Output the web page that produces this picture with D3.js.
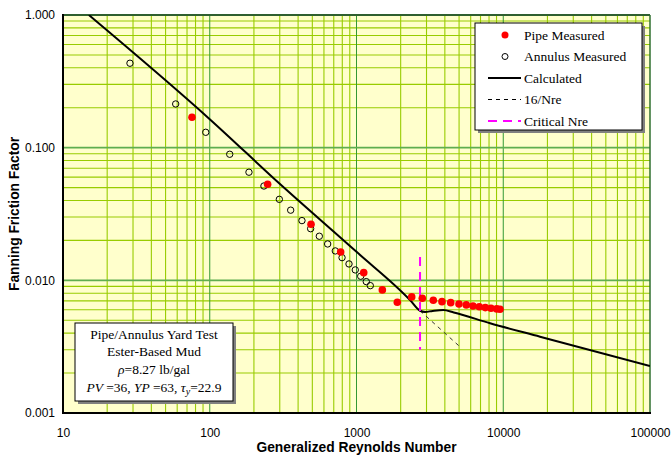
<!DOCTYPE html>
<html>
<head>
<meta charset="utf-8">
<script src="https://cdn.jsdelivr.net/npm/d3@7"></script>
<style>
  html, body { margin: 0; padding: 0; background: #fff; }
  svg { display: block; }
</style>
</head>
<body>
<svg id="chart" width="672" height="456"></svg>
<script>
// Generalized Reynolds number vs. Fanning friction factor, yard test data

// Pipe measurements
const pipeRe = [75.7, 248, 490, 780, 1120, 1500, 1897, 2378, 2808, 3337, 3824, 4385, 4994, 5601, 6221, 6868, 7547, 8251, 9024, 9504];
const pipeF  = [0.1694, 0.0530, 0.0265, 0.01637, 0.01143, 0.00847, 0.00684, 0.00750, 0.00733, 0.00708, 0.00691, 0.00679, 0.00664, 0.00653, 0.00641, 0.00633, 0.00623, 0.00616, 0.00609, 0.00606];

// Annulus measurements
const annRe = [28.6, 58.6, 93.9, 136.8, 185, 234, 298, 356, 425, 487, 558, 636, 717, 797, 889, 981, 1068, 1166, 1242];
const annF  = [0.433, 0.2135, 0.1306, 0.0892, 0.0653, 0.0514, 0.0408, 0.0338, 0.0282, 0.0245, 0.0215, 0.0188, 0.01666, 0.01483, 0.01329, 0.01198, 0.01074, 0.00978, 0.00912];

// Calculated friction factor curve
const calcRe = [15, 100, 301, 1000, 2316, 2710, 2930, 3300, 3904, 4600, 8130, 17800, 100000];
const calcF  = [1.0, 0.164, 0.0532, 0.0164, 0.00711, 0.00590, 0.00578, 0.00588, 0.00597, 0.00572, 0.00475, 0.00376, 0.00226];

// Laminar 16/Nre reference segment and critical Reynolds number
const laminarRe = [2710, 5000];
const laminarF  = [16 / 2710, 16 / 5000];
const criticalRe = 2710;
const criticalF  = [0.015, 0.003];

// Axis ticks
const xTicks = [10, 100, 1000, 10000, 100000];
const xTickLabels = ["10", "100", "1000", "10000", "100000"];
const yTicks = [0.001, 0.01, 0.1, 1];
const yTickLabels = ["0.001", "0.010", "0.100", "1.000"];

const legendLabels = ["Pipe Measured", "Annulus Measured", "Calculated", "16/Nre", "Critical Nre"];
const noteLines = ["Pipe/Annulus Yard Test", "Ester-Based Mud"];

const svg = d3.select("#chart");
const L = 63, R = 650, T = 15, B = 413;

const x = d3.scaleLog().domain([10, 100000]).range([L, R]);
const y = d3.scaleLog().domain([0.001, 1]).range([B, T]);

// plot background
svg.append("rect").attr("x", L).attr("y", T).attr("width", R - L).attr("height", B - T).attr("fill", "#FFFFCC");

const grid = svg.append("g");
// minor grid lines (2..9 in each decade)
const minorX = [], minorY = [];
for (let d = 10; d < 100000; d *= 10) for (let k = 2; k <= 9; k++) minorX.push(d * k);
for (let d = 0.001; d < 0.9; d *= 10) for (let k = 2; k <= 9; k++) minorY.push(d * k);
grid.selectAll(".mx").data(minorX).enter().append("line")
  .attr("x1", d => x(d)).attr("x2", d => x(d)).attr("y1", T).attr("y2", B)
  .attr("stroke", "#99CC00").attr("stroke-width", 1.1);
grid.selectAll(".my").data(minorY).enter().append("line")
  .attr("y1", d => y(d)).attr("y2", d => y(d)).attr("x1", L).attr("x2", R)
  .attr("stroke", "#99CC00").attr("stroke-width", 1.1);
// major grid lines
grid.selectAll(".Mx").data(xTicks.slice(1, -1)).enter().append("line")
  .attr("x1", d => x(d)).attr("x2", d => x(d)).attr("y1", T).attr("y2", B)
  .attr("stroke", "#339933").attr("stroke-width", 1);
grid.selectAll(".My").data(yTicks.slice(1, -1)).enter().append("line")
  .attr("y1", d => y(d)).attr("y2", d => y(d)).attr("x1", L).attr("x2", R)
  .attr("stroke", "#5FAE4F").attr("stroke-width", 1.6);

// frame: top/right in dark green, left/bottom black
svg.append("line").attr("x1", L).attr("x2", R).attr("y1", T).attr("y2", T).attr("stroke", "#2F5F2F").attr("stroke-width", 2);
svg.append("line").attr("x1", R).attr("x2", R).attr("y1", T).attr("y2", B).attr("stroke", "#2F6F2F").attr("stroke-width", 1.5);

svg.append("clipPath").attr("id", "plotClip").append("rect")
  .attr("x", L).attr("y", T).attr("width", R - L).attr("height", B - T);

const line = d3.line().x(d => x(d[0])).y(d => y(d[1]));
const curve = d3.line().x(d => x(d[0])).y(d => y(d[1])).curve(d3.curveMonotoneX);

const plot = svg.append("g").attr("clip-path", "url(#plotClip)");

// 16/Nre
plot.append("path").datum(laminarRe.map((r, i) => [r, laminarF[i]]))
  .attr("d", line).attr("fill", "none").attr("stroke", "#333").attr("stroke-width", 1)
  .attr("stroke-dasharray", "4,4");

// calculated
plot.append("path").datum(calcRe.map((r, i) => [r, calcF[i]]))
  .attr("d", curve).attr("fill", "none").attr("stroke", "#000").attr("stroke-width", 2);

// critical Nre
plot.append("line")
  .attr("x1", x(criticalRe)).attr("x2", x(criticalRe))
  .attr("y1", y(criticalF[0])).attr("y2", y(criticalF[1]))
  .attr("stroke", "#FF00FF").attr("stroke-width", 2).attr("stroke-dasharray", "9,6");

// annulus points
plot.selectAll(".ann").data(annRe.map((r, i) => [r, annF[i]])).enter().append("circle")
  .attr("cx", d => x(d[0])).attr("cy", d => y(d[1])).attr("r", 3.2)
  .attr("fill", "none").attr("stroke", "#000").attr("stroke-width", 1);

// pipe points
plot.selectAll(".pipe").data(pipeRe.map((r, i) => [r, pipeF[i]])).enter().append("circle")
  .attr("cx", d => x(d[0])).attr("cy", d => y(d[1])).attr("r", 3.8)
  .attr("fill", "#FF0000");

// left and bottom axis lines
svg.append("line").attr("x1", L).attr("x2", L).attr("y1", T - 1).attr("y2", B + 1).attr("stroke", "#000").attr("stroke-width", 2);
svg.append("line").attr("x1", L - 1).attr("x2", R + 1).attr("y1", B).attr("y2", B).attr("stroke", "#000").attr("stroke-width", 2);

// axes (labels only)
const sans = "Liberation Sans, Arial, sans-serif";
const xAxis = d3.axisBottom(x).tickValues(xTicks).tickFormat((d, i) => xTickLabels[i]).tickSize(0).tickPadding(15);
const gx = svg.append("g").attr("transform", `translate(0,${B})`).call(xAxis);
gx.select(".domain").remove();
gx.selectAll("text").attr("font-family", sans).attr("font-size", 12).attr("fill", "#000");

const yAxis = d3.axisLeft(y).tickValues(yTicks).tickFormat((d, i) => yTickLabels[i]).tickSize(0).tickPadding(8);
const gy = svg.append("g").attr("transform", `translate(${L},0)`).call(yAxis);
gy.select(".domain").remove();
gy.selectAll("text").attr("font-family", sans).attr("font-size", 12).attr("fill", "#000");

// axis titles
svg.append("text").attr("x", (L + R) / 2).attr("y", 452).attr("text-anchor", "middle")
  .attr("font-family", sans).attr("font-weight", "bold").attr("font-size", 13.8)
  .text("Generalized Reynolds Number");
svg.append("text").attr("transform", `translate(19,${(T + B) / 2}) rotate(-90)`).attr("text-anchor", "middle")
  .attr("font-family", sans).attr("font-weight", "bold").attr("font-size", 13.8)
  .text("Fanning Friction Factor");

// legend
const lg = svg.append("g");
const lx = 475, ly = 23, lw = 167, lh = 107;
lg.append("rect").attr("x", lx + 3).attr("y", ly + 3).attr("width", lw).attr("height", lh).attr("fill", "#808080");
lg.append("rect").attr("x", lx).attr("y", ly).attr("width", lw).attr("height", lh).attr("fill", "#fff").attr("stroke", "#000").attr("stroke-width", 1);
const rowY = i => 35 + i * 21.5;
lg.append("circle").attr("cx", 505).attr("cy", rowY(0)).attr("r", 3.5).attr("fill", "#FF0000");
lg.append("circle").attr("cx", 505).attr("cy", rowY(1)).attr("r", 3).attr("fill", "none").attr("stroke", "#000");
lg.append("line").attr("x1", 488).attr("x2", 521).attr("y1", rowY(2)).attr("y2", rowY(2)).attr("stroke", "#000").attr("stroke-width", 2);
lg.append("line").attr("x1", 488).attr("x2", 521).attr("y1", rowY(3)).attr("y2", rowY(3)).attr("stroke", "#000").attr("stroke-width", 1).attr("stroke-dasharray", "4,4");
lg.append("line").attr("x1", 488).attr("x2", 521).attr("y1", rowY(4)).attr("y2", rowY(4)).attr("stroke", "#FF00FF").attr("stroke-width", 2).attr("stroke-dasharray", "9,6");
lg.selectAll(".lt").data(legendLabels).enter().append("text")
  .attr("x", 524).attr("y", (d, i) => rowY(i) + 4.5)
  .attr("font-family", "Liberation Serif, Times New Roman, serif").attr("font-size", 13.5)
  .text(d => d);

// annotation box
const ab = svg.append("g");
const ax0 = 75, ay0 = 323, aw = 158, ah = 78;
ab.append("rect").attr("x", ax0 + 3).attr("y", ay0 + 3).attr("width", aw).attr("height", ah).attr("fill", "#808080");
ab.append("rect").attr("x", ax0).attr("y", ay0).attr("width", aw).attr("height", ah).attr("fill", "#fff").attr("stroke", "#000").attr("stroke-width", 1);
const cx = ax0 + aw / 2;
const serif = "Liberation Serif, Times New Roman, serif";
ab.selectAll(".nt").data(noteLines).enter().append("text")
  .attr("x", cx).attr("y", (d, i) => 339 + i * 17).attr("text-anchor", "middle")
  .attr("font-family", serif).attr("font-size", 13.5).text(d => d);
const t3 = ab.append("text").attr("x", cx).attr("y", 374).attr("text-anchor", "middle")
  .attr("font-family", serif).attr("font-size", 13.5);
t3.append("tspan").attr("font-style", "italic").text("ρ");
t3.append("tspan").text("=8.27 lb/gal");
const t4 = ab.append("text").attr("x", cx).attr("y", 392).attr("text-anchor", "middle")
  .attr("font-family", serif).attr("font-size", 13.5);
t4.append("tspan").attr("font-style", "italic").text("PV ");
t4.append("tspan").text("=36, ");
t4.append("tspan").attr("font-style", "italic").text("YP ");
t4.append("tspan").text("=63, ");
t4.append("tspan").attr("font-style", "italic").text("τ");
t4.append("tspan").attr("font-style", "italic").attr("font-size", 10).attr("dy", 3).text("y");
t4.append("tspan").attr("dy", -3).text("=22.9");
</script>
</body>
</html>
